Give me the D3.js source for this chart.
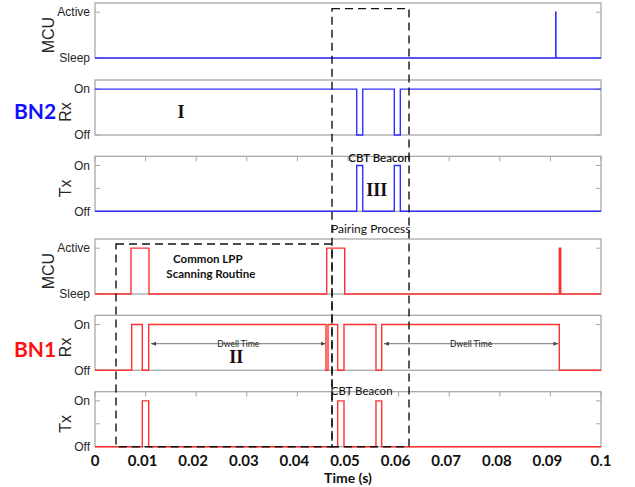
<!DOCTYPE html>
<html>
<head>
<meta charset="utf-8">
<script src="https://cdn.jsdelivr.net/npm/d3@7"></script>
<style>
  body { margin: 0; background: #fff; }
  svg { display: block; }
</style>
</head>
<body>
<svg id="chart" width="635" height="487"></svg>
<script>
// ---- data (time in seconds, levels 0/1) ----
const xTicks = [0, 0.01, 0.02, 0.03, 0.04, 0.05, 0.06, 0.07, 0.08, 0.09, 0.1]
const xTickLabels = ["0", "0.01", "0.02", "0.03", "0.04", "0.05", "0.06", "0.07", "0.08", "0.09", "0.1"]

// each signal: starting level + times where it toggles
const bn2McuStart = 0
const bn2McuEdges = [0.09105, 0.09110]
const bn2RxStart = 1
const bn2RxEdges = [0.05172, 0.05291, 0.05915, 0.06034]
const bn2TxStart = 0
const bn2TxEdges = [0.05172, 0.05291, 0.05915, 0.06034]

const bn1McuStart = 0
const bn1McuEdges = [0.00711, 0.01067, 0.04579, 0.04935, 0.09176, 0.09204]
const bn1RxStart = 0
const bn1RxEdges = [0.00725, 0.00935, 0.01061, 0.04565, 0.04605, 0.04796, 0.04921, 0.05553, 0.05666, 0.09176]
const bn1TxStart = 0
const bn1TxEdges = [0.00935, 0.01061, 0.04796, 0.04921, 0.05553, 0.05666]

const panelNames = ["MCU", "Rx", "Tx", "MCU", "Rx", "Tx"]
const mcuLevels = ["Sleep", "Active"]
const radioLevels = ["Off", "On"]

// dwell time arrows [t0, t1, level] in BN1 Rx panel
const dwellArrows = [[0.01107, 0.04559, 0.58], [0.05711, 0.09156, 0.58]]

// ---- layout ----
const svg = d3.select("#chart")
const x = d3.scaleLinear().domain([0, 0.1]).range([95, 601])
const panelBottoms = [58, 135, 211.3, 294, 370.3, 446.7]
const panelH = 55
const blue = "#3030ff", red = "#ff3030", frame = "#a8a8a8"

function yScale(i) {
  return d3.scaleLinear().domain([0, 1.2]).range([panelBottoms[i], panelBottoms[i] - panelH])
}

function stepData(start, edges) {
  var pts = [[0, start]]
  var lv = start
  edges.forEach(function (t) { lv = 1 - lv; pts.push([t, lv]) })
  pts.push([0.1, lv])
  return pts
}

const signals = [
  {start: bn2McuStart, edges: bn2McuEdges, color: blue, levels: mcuLevels},
  {start: bn2RxStart, edges: bn2RxEdges, color: blue, levels: radioLevels},
  {start: bn2TxStart, edges: bn2TxEdges, color: blue, levels: radioLevels},
  {start: bn1McuStart, edges: bn1McuEdges, color: red, levels: mcuLevels},
  {start: bn1RxStart, edges: bn1RxEdges, color: red, levels: radioLevels},
  {start: bn1TxStart, edges: bn1TxEdges, color: red, levels: radioLevels}
]

signals.forEach(function (s, i) {
  var y = yScale(i)
  var g = svg.append("g")
  var isTx = panelNames[i] == "Tx"

  // box
  g.append("rect")
    .attr("x", x(0)).attr("y", y(1.2))
    .attr("width", x(0.1) - x(0)).attr("height", y(0) - y(1.2))
    .attr("fill", "none").attr("stroke", frame).attr("stroke-width", 1.3)

  // y ticks (inward, both sides)
  var yt = isTx ? [0, 0.5, 1] : [0, 1]
  yt.forEach(function (v) {
    g.append("line").attr("x1", x(0)).attr("x2", x(0) + 5).attr("y1", y(v)).attr("y2", y(v))
      .attr("stroke", frame)
    g.append("line").attr("x1", x(0.1)).attr("x2", x(0.1) - 5).attr("y1", y(v)).attr("y2", y(v))
      .attr("stroke", frame)
  })
  if (isTx) {
    xTicks.forEach(function (t) {
      g.append("line").attr("x1", x(t)).attr("x2", x(t)).attr("y1", y(1.2)).attr("y2", y(1.2) + 5)
        .attr("stroke", frame)
    })
  }

  // tick labels
  s.levels.forEach(function (lab, k) {
    g.append("text").attr("x", 90).attr("y", y(k)).attr("dy", "0.35em")
      .attr("text-anchor", "end")
      .style("font-family", "Liberation Sans, Arial, sans-serif").style("font-size", "12px")
      .style("fill", "#262626").text(lab)
  })

  // axis name
  var cx = panelNames[i] == "MCU" ? 48 : 65
  g.append("text")
    .attr("transform", "translate(" + cx + "," + y(0.5) + ") rotate(-90)")
    .attr("dy", "0.35em").attr("text-anchor", "middle")
    .style("font-family", "Liberation Sans, Arial, sans-serif").style("font-size", "16px")
    .style("fill", "#262626").text(panelNames[i])

  // signal
  var line = d3.line().x(function (d) { return x(d[0]) }).y(function (d) { return y(d[1]) })
    .curve(d3.curveStepAfter)
  g.append("path").datum(stepData(s.start, s.edges))
    .attr("d", line).attr("fill", "none").attr("stroke", s.color).attr("stroke-width", 1.4)
})

// x tick labels
svg.append("g").selectAll("text").data(xTicks).enter().append("text")
  .attr("x", function (d) { return x(d) - (d > 0 && d < 0.1 ? 3 : 0) })
  .attr("y", 461).attr("dy", "0.35em").attr("text-anchor", "middle")
  .style("font-family", "Lato, sans-serif").style("font-weight", "bold").style("font-size", "15px")
  .style("fill", "#111")
  .text(function (d, i) { return xTickLabels[i] })

svg.append("text").attr("x", 348).attr("y", 478.5).attr("dy", "0.35em").attr("text-anchor", "middle")
  .style("font-family", "Lato, sans-serif").style("font-weight", "bold").style("font-size", "14px")
  .style("fill", "#111").text("Time (s)")

// node labels
svg.append("text").attr("x", 14).attr("y", 112).attr("dy", "0.35em")
  .style("font-family", "Lato, sans-serif").style("font-weight", "bold").style("font-size", "21px")
  .style("fill", "#1010ff").text("BN2")
svg.append("text").attr("x", 14).attr("y", 350).attr("dy", "0.35em")
  .style("font-family", "Lato, sans-serif").style("font-weight", "bold").style("font-size", "21px")
  .style("fill", "#ff1010").text("BN1")

// dwell arrows
svg.append("defs").append("marker").attr("id", "ah")
  .attr("viewBox", "0 0 10 10").attr("refX", 10).attr("refY", 5)
  .attr("markerWidth", 5).attr("markerHeight", 5).attr("orient", "auto-start-reverse")
  .append("path").attr("d", "M0,1L10,5L0,9z").attr("fill", "#444")

var yRx1 = yScale(4)
dwellArrows.forEach(function (a) {
  svg.append("line").attr("x1", x(a[0])).attr("x2", x(a[1])).attr("y1", yRx1(a[2])).attr("y2", yRx1(a[2]))
    .attr("stroke", "#777").attr("stroke-width", 1)
    .attr("marker-start", "url(#ah)").attr("marker-end", "url(#ah)")
  svg.append("text").attr("x", x((a[0] + a[1]) / 2)).attr("y", yRx1(a[2])).attr("dy", "0.35em")
    .attr("text-anchor", "middle")
    .style("font-family", "Lato, sans-serif").style("font-size", "8.5px").style("fill", "#222")
    .text("Dwell Time")
})

// annotations: [text, t, panel, level, font, size, weight]
const notes = [
  ["I", 0.0170, 1, 0.5, "Liberation Serif, serif", 18, "bold"],
  ["II", 0.0279, 4, 0.29, "Liberation Serif, serif", 18, "bold"],
  ["III", 0.0557, 2, 0.47, "Liberation Serif, serif", 18, "bold"],
  ["CBT Beacon", 0.0562, 2, 1.156, "Lato, sans-serif", 11.5, "600"],
  ["CBT Beacon", 0.0527, 5, 1.225, "Lato, sans-serif", 11.5, "normal"],
  ["Pairing Process", 0.0545, 3, 1.42, "Lato, sans-serif", 12, "normal"],
  ["Common LPP", 0.0223, 3, 0.76, "Lato, sans-serif", 11.5, "bold"],
  ["Scanning Routine", 0.0229, 3, 0.44, "Lato, sans-serif", 11.5, "bold"]
]
notes.forEach(function (n) {
  svg.append("text").attr("x", x(n[1])).attr("y", yScale(n[2])(n[3])).attr("dy", "0.35em")
    .attr("text-anchor", "middle")
    .style("font-family", n[4]).style("font-size", n[5] + "px").style("font-weight", n[6])
    .style("fill", "#111").text(n[0])
})

// dashed boxes: [t0, t1, topPanel, topLevel]
const boxes = [[0.04684, 0.06206, 0, 1.077], [0.00415, 0.04684, 3, 1.09]]
boxes.forEach(function (b) {
  var top = yScale(b[2])(b[3]), bot = yScale(5)(0)
  svg.append("rect").attr("x", x(b[0])).attr("y", top)
    .attr("width", x(b[1]) - x(b[0])).attr("height", bot - top)
    .attr("fill", "none").attr("stroke", "#111").attr("stroke-width", 1.4)
    .attr("stroke-dasharray", "8,5")
})
</script>
</body>
</html>
